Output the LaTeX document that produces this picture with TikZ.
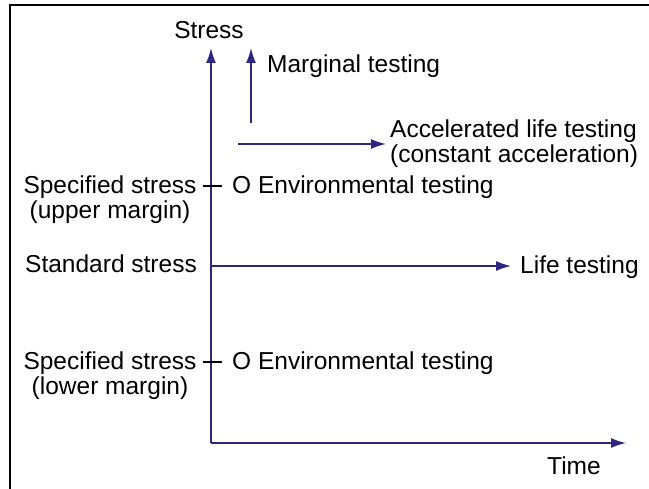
\documentclass[tikz,border=0pt]{standalone}
\usepackage{fontspec}
\setmainfont{Liberation Sans}
\usepackage{xcolor}
\usetikzlibrary{positioning,arrows.meta}
\definecolor{axisblue}{RGB}{46,38,128}

\begin{document}
\begin{tikzpicture}[x=1pt, y=-1pt, font=\fontsize{24.5}{25}\selectfont,
    flow/.style={axisblue, line width=1.4pt, -{Latex[length=15pt,width=10pt]}},
    txt/.style={inner sep=0pt, align=center},
    tick/.style={black, line width=1.2pt}]
    \useasboundingbox (0,0) rectangle (649,489);

    % Frame
    \draw [line width=2pt] (9.5,489) -- (9.5,5.5) -- (649,5.5);

    % Axes
    \coordinate (origin) at (211,443);
    \coordinate (ytop) at (211,48);
    \coordinate (xend) at (626,443);
    \draw [flow] (origin) -- (ytop);
    \draw [flow] (origin) -- (xend);
    \node [txt] (stress) at (209,30) {Stress};
    \node [txt] (time) at (574,466) {Time};

    % Marginal testing
    \coordinate (mbase) at (251,123);
    \coordinate (mtip) at (251,48);
    \draw [flow] (mbase) -- (mtip);
    \node [txt, anchor=mid west] (marginal) at (267,70) {Marginal testing};

    % Accelerated life testing
    \coordinate (abase) at (238,144);
    \node [txt, anchor=west, align=left] (accel) at (390,144) {Accelerated life testing\\(constant acceleration)};
    \draw [flow, shorten >=4pt] (abase) -- (abase -| accel.west);

    % Upper margin
    \node [txt] (upper) at (110,200) {Specified stress\\(upper margin)};
    \coordinate (utickL) at (203,186);
    \coordinate (utickR) at (222,186);
    \draw [tick] (utickL) -- (utickR);
    \node [txt, anchor=mid west] (envup) at (232,191) {O Environmental testing};

    % Standard stress
    \node [txt, anchor=mid east] (standard) at (197,270) {Standard stress};
    \coordinate (sbase) at (211,266);
    \node [txt, anchor=mid west] (life) at (520,271) {Life testing};
    \draw [flow, shorten >=9pt] (sbase) -- (sbase -| life.west);

    % Lower margin
    \node [txt] (lower) at (110,376) {Specified stress\\(lower margin)};
    \coordinate (ltickL) at (203,362);
    \coordinate (ltickR) at (222,362);
    \draw [tick] (ltickL) -- (ltickR);
    \node [txt, anchor=mid west] (envlow) at (232,367) {O Environmental testing};

\end{tikzpicture}
\end{document}
